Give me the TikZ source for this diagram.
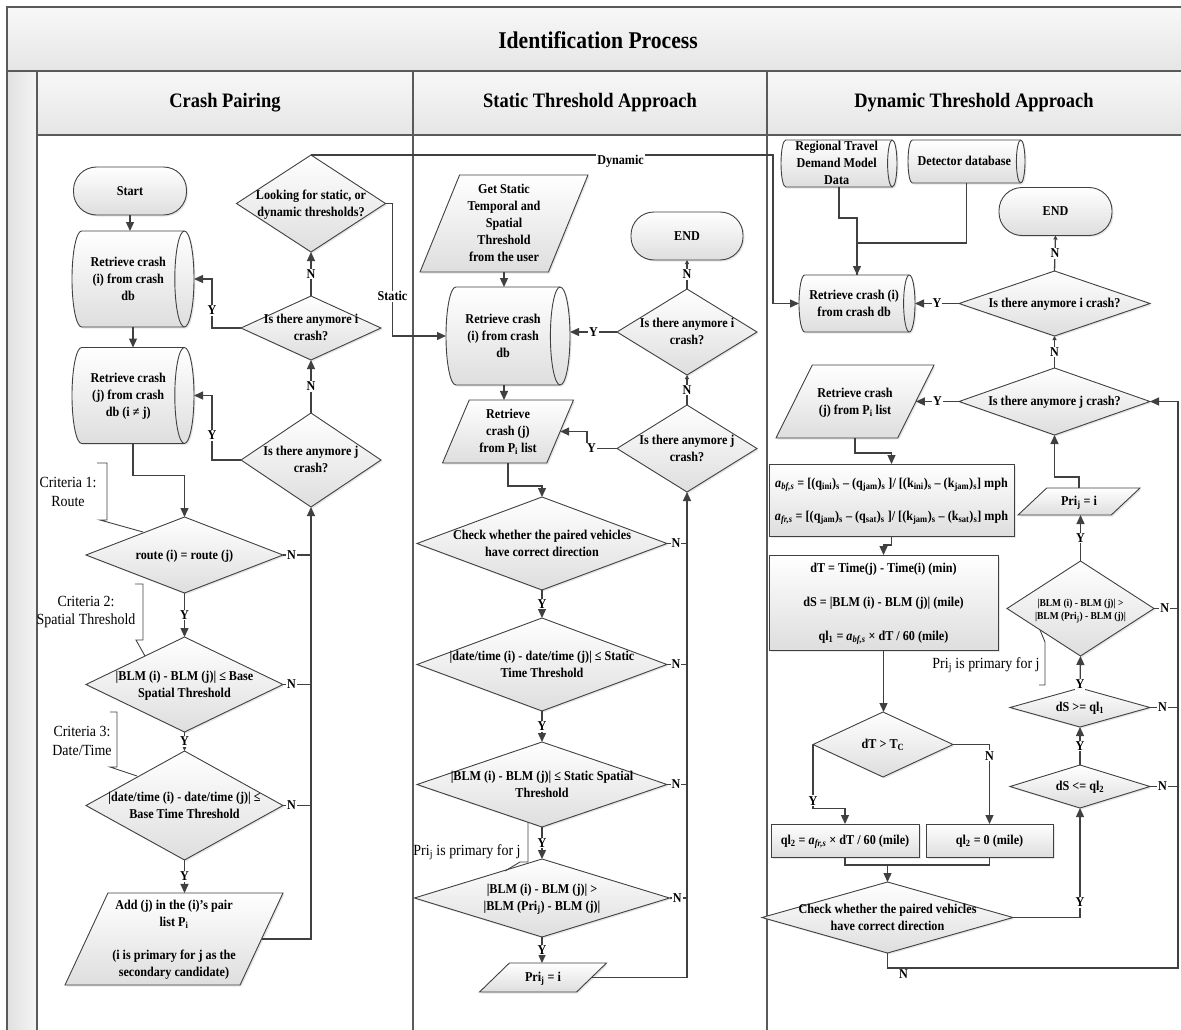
\documentclass[tikz,border=0pt]{standalone}
\usepackage{fontspec}
\setmainfont{Liberation Serif}[FakeStretch=0.9]
\usetikzlibrary{shapes.geometric,arrows.meta,shadows}

\definecolor{framegray}{HTML}{5A5A5A}
\definecolor{linegray}{HTML}{404040}

% text of a shape, set so that it gives the shape no size of its own
\newcommand{\inbox}[1]{\smash{\raisebox{-4.5pt}{\makebox[0pt]{\begin{tabular}{@{}c@{}}#1\end{tabular}}}}}

\tikzset{
	shapefill/.style={draw=linegray, line width=0.9pt, top color=white, bottom color=black!13,
		drop shadow={shadow xshift=1.5pt, shadow yshift=-1.5pt, opacity=0.2}},
	shapetext/.style={font=\fontsize{13.5}{17}\selectfont\bfseries, inner sep=2pt, outer sep=0pt},
	shapebase/.style={shapefill, shapetext},
	term/.style={shapebase, rectangle, rounded corners=23pt, minimum width=#1, minimum height=48pt},
	dia/.style 2 args={shapebase, diamond, minimum width=#1, minimum height=#2},
	proc/.style 2 args={shapebase, rectangle, minimum width=#1, minimum height=#2},
	io/.style n args={4}{shapebase, trapezium, trapezium stretches=true,
		trapezium left angle=#1, trapezium right angle=#2, minimum width=#3, minimum height=#4},
	dbline/.style={draw=linegray, line width=0.9pt},
	flow/.style={draw=linegray, line width=1.3pt, -{Triangle[length=9pt,width=8pt]}},
	smallflow/.style={draw=linegray, line width=1.3pt, -{Triangle[length=4pt,width=4pt]}},
	link/.style={draw=linegray, line width=1.3pt},
	yn/.style={font=\fontsize{13.5}{15}\selectfont\bfseries, fill=white, inner sep=1pt},
	note/.style={font=\fontsize{15.5}{18.5}\selectfont, align=center, inner sep=0pt},
	brace/.style={draw=linegray, line width=0.9pt},
	lane/.style={draw=framegray, line width=1.4pt},
	head/.style={font=\fontsize{20.5}{24}\selectfont\bfseries},
}

% stored data (lying cylinder): name, x, y, length, diameter, text
\newcommand{\dbnode}[6]{%
	\pgfmathsetmacro{\dbleft}{#2-#4/2}\pgfmathsetmacro{\dbright}{#2+#4/2}%
	\pgfmathsetmacro{\dbtop}{#3-#5/2}\pgfmathsetmacro{\dbbot}{#3+#5/2}%
	\pgfmathsetmacro{\dbrx}{#5*0.1}\pgfmathsetmacro{\dbry}{#5/2}%
	\path[shapefill] (\dbleft+\dbrx,\dbtop) -- (\dbright-\dbrx,\dbtop)
		arc[start angle=90, end angle=-90, x radius=\dbrx pt, y radius=\dbry pt]
		-- (\dbleft+\dbrx,\dbbot)
		arc[start angle=270, end angle=90, x radius=\dbrx pt, y radius=\dbry pt] -- cycle;
	\draw[dbline] (\dbright-\dbrx,\dbtop)
		arc[start angle=90, end angle=270, x radius=\dbrx pt, y radius=\dbry pt];
	\node[shapetext, rectangle, minimum width=#4pt, minimum height=#5pt] (#1) at (#2,#3)
		{\makebox[0pt]{\hspace{-\dbrx pt}\inbox{#6}}};
}

\begin{document}
\begin{tikzpicture}[x=1pt, y=-1pt]
	\useasboundingbox (0,0) rectangle (1181,1030);
	
	% pool and lanes
	\shade[top color=black!3, bottom color=black!10] (7,7) rectangle (1181,71);
	\shade[top color=black!3, bottom color=black!10] (37,71) rectangle (1181,135);
	\shade[left color=black!12, right color=black!4] (7,71) rectangle (37,1030);
	\draw[lane] (7,1030) -- (7,7) -- (1181,7);
	\draw[lane] (7,71) -- (1181,71);
	\draw[lane] (37,135) -- (1181,135);
	\draw[lane] (37,71) -- (37,1030);
	\draw[lane] (413,71) -- (413,1030);
	\draw[lane] (767,71) -- (767,1030);
	
	\node[font=\fontsize{24}{28}\selectfont\bfseries] (title) at (598,40) {Identification Process};
	\node[head] (hpair) at (225,103) {Crash Pairing};
	\node[head] (hstatic) at (590,103) {Static Threshold Approach};
	\node[head] (hdynamic) at (974,103) {Dynamic Threshold Approach};
	
	% crash pairing
	\node[term=113pt] (start) at (130,191) {\inbox{Start}};
	\dbnode{rci}{133}{279}{122}{96}{Retrieve crash\\(i) from crash\\db}
	\dbnode{rcj}{133}{395.5}{122}{96}{Retrieve crash\\(j) from crash\\db (i ≠ j)}
	\node[dia={197pt}{76pt}] (route) at (184.5,555) {\inbox{route (i) = route (j)}};
	\node[dia={197pt}{95pt}] (spat) at (184.5,684.5) {\inbox{|BLM (i) - BLM (j)| ≤ Base\\Spatial Threshold}};
	\node[dia={197pt}{109pt}] (dtime) at (184.5,805.5) {\inbox{|date/time (i) - date/time (j)| ≤\\Base Time Threshold}};
	\node[io={72}{108}{218pt}{92pt}] (addp) at (174,939) {\inbox{Add (j) in the (i)’s pair\\list P\textsubscript{i}\\[16pt](i is primary for j as the\\secondary candidate)}};
	\node[dia={140pt}{94pt}] (anyj) at (311,460) {\inbox{Is there anymore j\\crash?}};
	\node[dia={140pt}{64pt}] (anyi) at (311,328) {\inbox{Is there anymore i\\crash?}};
	\node[dia={149pt}{97pt}] (look) at (311,203.5) {\inbox{Looking for static, or\\dynamic thresholds?}};
	
	\node[note] (crit1) at (68,492) {Criteria 1:\\Route};
	\node[note] (crit2) at (86,612) {Criteria 2:\\Spatial Threshold};
	\node[note] (crit3) at (82,741) {Criteria 3:\\Date/Time};
	\draw[brace] (97,463) -- (107,463) -- (107,520) -- (100,520) -- (143,532);
	\draw[brace] (135,584) -- (143,584) -- (143,640) -- (136,640) -- (145,656);
	\draw[brace] (110,712) -- (117,712) -- (117,767) -- (110,767) -- (137,776);
	
	\draw[flow] (start.south) -- (start.south |- rci.north);
	\draw[flow] (rci.south) -- (rci.south |- rcj.north);
	\draw[flow] (rcj.south) -- ++(0,32) -| (route.north);
	\draw[flow] (route.south) -- node[yn]{Y} (spat.north);
	\draw[flow] (spat.south) -- node[yn]{Y} (dtime.north);
	\draw[flow] (dtime.south) -- node[yn]{Y} (dtime.south |- addp.north);
	\draw[flow] (addp.east) -| (anyj.south);
	\draw[link] (route.east) -- node[yn,pos=0.3]{N} (route.east -| anyj.south);
	\draw[link] (spat.east) -- node[yn,pos=0.3]{N} (spat.east -| anyj.south);
	\draw[link] (dtime.east) -- node[yn,pos=0.3]{N} (dtime.east -| anyj.south);
	\draw[flow] (anyj.north) -- node[yn]{N} (anyi.south);
	\draw[flow] (anyi.north) -- node[yn]{N} (look.south);
	\draw[flow] (anyi.west) -- ++(-29,0) |- node[yn,pos=0.18]{Y} (rci.east);
	\draw[flow] (anyj.west) -- ++(-29,0) |- node[yn,pos=0.19]{Y} (rcj.east);
	
	% static threshold approach
	\node[io={66}{114}{168pt}{97pt}] (sget) at (504,223.5) {\inbox{Get Static\\Temporal and\\Spatial\\Threshold\\from the user}};
	\dbnode{scyl}{508}{336}{124}{98}{Retrieve crash\\(i) from crash\\db}
	\node[io={71}{109}{131pt}{63pt}] (spar) at (508,431.5) {\inbox{Retrieve\\crash (j)\\from P\textsubscript{i} list}};
	\node[term=112pt] (send) at (687,236) {\inbox{END}};
	\node[dia={140pt}{86pt}] (sanyi) at (687,332) {\inbox{Is there anymore i\\crash?}};
	\node[dia={140pt}{87pt}] (sanyj) at (687,448.5) {\inbox{Is there anymore j\\crash?}};
	\node[dia={250pt}{93pt}] (schk) at (542,543.5) {\inbox{Check whether the paired vehicles\\have correct direction}};
	\node[dia={250pt}{93pt}] (stime) at (542,664.5) {\inbox{|date/time (i) - date/time (j)| ≤ Static\\Time Threshold}};
	\node[dia={250pt}{85pt}] (sspat) at (542,784.5) {\inbox{|BLM (i) - BLM (j)| ≤ Static Spatial\\Threshold}};
	\node[dia={255pt}{78pt}] (spri) at (542,898) {\inbox{|BLM (i) - BLM (j)| >\\|BLM (Pri\textsubscript{j}) - BLM (j)|}};
	\node[io={66}{114}{127pt}{29pt}] (sset) at (543,977.5) {\inbox{Pri\textsubscript{j} = i}};
	
	\node[note] (sprinote) at (467,852) {Pri\textsubscript{j} is primary for j};
	\draw[brace] (528,822) -- (528,862) -- (520,862) -- (505,871);
	
	\draw[flow] (sget.south) -- (sget.south |- scyl.north);
	\draw[flow] (sget.south |- scyl.south) -- (sget.south |- spar.north);
	\draw[flow] (sanyi.west) -- node[yn]{Y} (sanyi.west -| scyl.east);
	\draw[smallflow] (sanyi.north) -- node[yn]{N} (send.south);
	\draw[smallflow] (sanyj.north) -- node[yn]{N} (sanyi.south);
	\draw[flow] (sanyj.west) -- node[yn,pos=0.85]{Y} ++(-30,0) |- (spar.east);
	\draw[flow] (spar.south) -- ++(0,23) -| (schk.north);
	\draw[flow] (schk.south) -- node[yn]{Y} (stime.north);
	\draw[flow] (stime.south) -- node[yn]{Y} (sspat.north);
	\draw[flow] (sspat.south) -- node[yn]{Y} (spri.north);
	\draw[flow] (spri.south) -- node[yn]{Y} (spri.south |- sset.north);
	\draw[flow] (sset.east) -| (sanyj.south);
	\draw[link] (schk.east) -- node[yn,pos=0.45]{N} (schk.east -| sanyj.south);
	\draw[link] (stime.east) -- node[yn,pos=0.45]{N} (stime.east -| sanyj.south);
	\draw[link] (sspat.east) -- node[yn,pos=0.45]{N} (sspat.east -| sanyj.south);
	\draw[link] (spri.east) -- node[yn,pos=0.45]{N} (spri.east -| sanyj.south);
	
	% dynamic threshold approach
	\dbnode{dtravel}{839}{163.5}{116}{47}{Regional Travel\\Demand Model\\Data}
	\dbnode{ddetect}{966.5}{161.5}{117}{43}{Detector database}
	\dbnode{dcyl}{857}{303.5}{116}{57}{Retrieve crash (i)\\from crash db}
	\node[term=113pt] (dend) at (1055.5,211.5) {\inbox{END}};
	\node[dia={191pt}{65pt}] (danyi) at (1054.5,303.5) {\inbox{Is there anymore i crash?}};
	\node[dia={191pt}{67pt}] (danyj) at (1054.5,401.5) {\inbox{Is there anymore j crash?}};
	\node[io={67}{113}{158pt}{73pt}] (dpar) at (855,401.5) {\inbox{Retrieve crash\\(j) from P\textsubscript{i} list}};
	\node[proc={245pt}{72pt}] (dform) at (891.5,500) {\inbox{\textit{a}\textsubscript{\textit{bf,s}} = [(q\textsubscript{ini})\textsubscript{s} – (q\textsubscript{jam})\textsubscript{s} ]/ [(k\textsubscript{ini})\textsubscript{s} – (k\textsubscript{jam})\textsubscript{s}] mph\\[16pt]\textit{a}\textsubscript{\textit{fr,s}} = [(q\textsubscript{jam})\textsubscript{s} – (q\textsubscript{sat})\textsubscript{s} ]/ [(k\textsubscript{jam})\textsubscript{s} – (k\textsubscript{sat})\textsubscript{s}] mph}};
	\node[proc={229pt}{95pt}] (dcalc) at (883.5,602.5) {\inbox{dT = Time(j) - Time(i) (min)\\[17pt]dS = |BLM (i) - BLM (j)| (mile)\\[17pt]ql\textsubscript{1} = \textit{a}\textsubscript{\textit{bf,s}} × dT / 60 (mile)}};
	\node[dia={140pt}{65pt}] (ddt) at (883,744.5) {\inbox{dT > T\textsubscript{C}}};
	\node[proc={148pt}{33pt}] (dqa) at (845,840.5) {\inbox{ql\textsubscript{2} = \textit{a}\textsubscript{\textit{fr,s}} × dT / 60 (mile)}};
	\node[proc={127pt}{33pt}] (dqz) at (989.5,840.5) {\inbox{ql\textsubscript{2} = 0 (mile)}};
	\node[dia={251pt}{71pt}] (dchk) at (887.5,917.5) {\inbox{Check whether the paired vehicles\\have correct direction}};
	\node[dia={140pt}{43pt}] (dle) at (1080,786.5) {\inbox{dS <= ql\textsubscript{2}}};
	\node[dia={140pt}{39pt}] (dge) at (1080,707.5) {\inbox{dS >= ql\textsubscript{1}}};
	\node[dia={147pt}{95pt}, font=\fontsize{10.5}{13}\selectfont\bfseries] (dpri) at (1080.5,608.5) {\inbox{|BLM (i) - BLM (j)| >\\|BLM (Pri\textsubscript{j}) - BLM (j)|}};
	\node[io={66}{114}{122pt}{27pt}] (dset) at (1079,501.5) {\inbox{Pri\textsubscript{j} = i}};
	
	\node[note] (dprinote) at (986,665) {Pri\textsubscript{j} is primary for j};
	\draw[brace] (1040,630) -- (1045,642) -- (1045,685) -- (1039,685);
	
	\coordinate (dmerge) at (887.5,865);
	\coordinate (drail) at (1178,968);
	
	\draw[flow] (dtravel.south) -- ++(0,31) -| (dcyl.north);
	\draw[link] (ddetect.south) -- ++(0,60) -| (dcyl.north);
	\draw[flow] (danyi.west) -- node[yn]{Y} (dcyl.east);
	\draw[smallflow] (danyi.north) -- node[yn]{N} (dend.south);
	\draw[smallflow] (danyj.north) -- node[yn]{N} (danyi.south);
	\draw[flow] (danyj.west) -- node[yn]{Y} (dpar.east);
	\draw[flow] (dpar.south) -- ++(0,15) -| (dform.north);
	\draw[flow] (dform.south) -- ++(0,9) -| (dcalc.north);
	\draw[flow] (dcalc.south) -- (dcalc.south |- ddt.north);
	\draw[flow] (ddt.west) -- node[yn,pos=0.88]{Y} ++(0,64) -| (dqa.north);
	\draw[flow] (ddt.east) -| node[yn,pos=0.57]{N} (dqz.north);
	\draw[link] (dqa.south) |- (dmerge) -| (dqz.south);
	\draw[flow] (dmerge) -- (dchk.north);
	\draw[flow] (dchk.east) -| node[yn,pos=0.57]{Y} (dle.south);
	\draw[flow] (dchk.south) |- node[pos=0.5, anchor=north west, xshift=10pt, font=\fontsize{13.5}{15}\selectfont\bfseries, inner sep=1pt]{N} (drail) |- (danyj.east);
	\draw[link] (dle.east) -- node[yn,pos=0.45]{N} (dle.east -| drail);
	\draw[link] (dge.east) -- node[yn,pos=0.45]{N} (dge.east -| drail);
	\draw[link] (dpri.east) -- node[yn,pos=0.45]{N} (dpri.east -| drail);
	\draw[flow] (dle.north) -- node[yn]{Y} (dge.south);
	\draw[flow] (dge.north) -- node[yn,pos=0.12]{Y} (dpri.south);
	\draw[flow] (dpri.north) -- node[yn]{Y} (dpri.north |- dset.south);
	\draw[flow] (dset.north) -- ++(0,-11) -| (danyj.south);
	
	% from the choice of thresholds to the two approaches
	\draw[flow] (look.east) -- ++(7,0) |- node[yn,pos=0.35]{Static} (scyl.west);
	\draw[flow] (look.north) -- node[yn,pos=0.67,yshift=-6pt]{Dynamic} ++(462,0) |- (dcyl.west);
	
\end{tikzpicture}
\end{document}
